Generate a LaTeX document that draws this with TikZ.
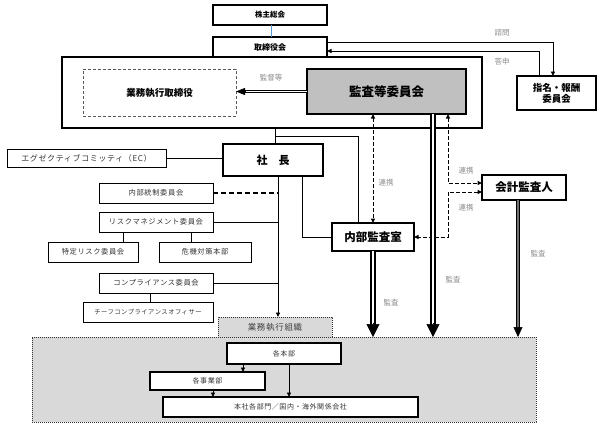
\documentclass[tikz,border=0pt]{standalone}
\usepackage{fontspec}
\setmainfont{Noto Sans CJK JP}
\newfontfamily\ltfont[LetterSpace=8]{Noto Sans CJK JP}
\usetikzlibrary{arrows.meta,calc}
\definecolor{lblgray}{HTML}{8A8A8A}
\definecolor{kgray}{HTML}{C0C0C0}
\definecolor{bggray}{HTML}{D9D9D9}
\definecolor{linkblue}{HTML}{5B9BD5}
\begin{document}
\begin{tikzpicture}[x=1pt,y=-1pt,
  every node/.style={inner sep=0pt, outer sep=0pt, align=center},
  thinbox/.style={draw, line width=0.9pt, fill=white, text=black!80, font=\ltfont\fontsize{7.3}{8}\selectfont},
  smallbox/.style={thinbox, font=\ltfont\fontsize{6.3}{7}\selectfont},
  boldbox/.style={draw, line width=1.9pt, fill=white, font=\bfseries\fontsize{9.5}{11}\selectfont},
  lbl/.style={text=lblgray, font=\fontsize{7.5}{8}\selectfont},
  ln/.style={line width=0.9pt},
  tip/.style={-{Triangle[width=4pt,length=4.5pt]}},
  dsh/.style={line width=1pt, dash pattern=on 3.5pt off 2.5pt},
  bigshaft/.style={line width=1.6pt, double=white, double distance=2.2pt, shorten >=12pt},
  bigtip/.style={-{Triangle[width=13pt,length=13pt]}, line width=0.5pt},
  orgedge/.style={draw=black!80, line width=0.8pt, dash pattern=on 1.2pt off 0.8pt, fill=bggray},
]
\useasboundingbox (0,0) rectangle (600,426);

% top
\node[boldbox, line width=1.2pt, minimum width=114pt, minimum height=20pt, font=\bfseries\fontsize{7.5}{8}\selectfont] (kabu) at (270,15) {株主総会};
\node[boldbox, minimum width=114pt, minimum height=20pt, font=\bfseries\fontsize{8}{9}\selectfont] (tori) at (270,47) {取締役会};
\node[draw, line width=1.9pt, minimum width=420pt, minimum height=71pt] (big) at (272,92.5) {};
\node[draw=black!65, line width=1pt, dash pattern=on 3pt off 2pt, minimum width=153pt, minimum height=47pt, font=\bfseries\fontsize{9.5}{11}\selectfont] (gyomu) at (159.5,92.5) {業務執行取締役};
\node[draw, line width=1.9pt, fill=kgray, minimum width=159pt, minimum height=45pt, font=\bfseries\fontsize{12.5}{14}\selectfont] (kansa) at (386.5,91.5) {監査等委員会};
\node[boldbox, minimum width=79pt, minimum height=34pt] (shimei) at (556.5,93) {指名・報酬\\委員会};

% middle
\node[boldbox, minimum width=100pt, minimum height=32pt, font=\bfseries\fontsize{11}{13}\selectfont] (shacho) at (273,160) {社　長};
\node[thinbox, minimum width=159pt, minimum height=18pt, font=\ltfont\fontsize{8}{9}\selectfont] (ec) at (86.5,158) {エグゼクティブコミッティ（EC）};
\node[boldbox, minimum width=82pt, minimum height=28pt, font=\bfseries\fontsize{11.5}{13}\selectfont] (naibu) at (373,237) {内部監査室};
\node[boldbox, line width=1.4pt, minimum width=84pt, minimum height=25pt, font=\bfseries\fontsize{11.5}{13}\selectfont] (kaikei) at (524,187.5) {会計監査人};

% left hierarchy
\node[thinbox, minimum width=114pt, minimum height=20pt] (tousei) at (156,193) {内部統制委員会};
\node[thinbox, minimum width=114pt, minimum height=20pt] (risk) at (156,222) {リスクマネジメント委員会};
\node[thinbox, minimum width=90pt, minimum height=20pt] (tokutei) at (93,252) {特定リスク委員会};
\node[thinbox, minimum width=92pt, minimum height=20pt] (kiki) at (205,252) {危機対策本部};
\node[thinbox, minimum width=114pt, minimum height=20pt] (comp) at (156,283) {コンプライアンス委員会};
\node[smallbox, minimum width=130pt, minimum height=20pt] (chief) at (148,312) {チーフコンプライアンスオフィサー};

% bottom organisation
\node[orgedge, minimum width=504pt, minimum height=85pt] (gray) at (284,379.5) {};
\node[orgedge, minimum width=114pt, minimum height=20pt, text=black!75, font=\ltfont\fontsize{8.5}{9}\selectfont] (tab) at (275,327) {業務執行組織};
\node[smallbox, line width=1.1pt, minimum width=114pt, minimum height=21pt, font=\ltfont\fontsize{7}{8}\selectfont] (honbu) at (284,353.5) {各本部};
\node[smallbox, line width=1.1pt, minimum width=115pt, minimum height=18pt, font=\ltfont\fontsize{7}{8}\selectfont] (jigyo) at (207.5,381) {各事業部};
\node[smallbox, line width=1.1pt, minimum width=255pt, minimum height=20pt, font=\ltfont\fontsize{7}{8}\selectfont] (honsha) at (290.5,407) {本社各部門／国内・海外関係会社};

% coordinates
\coordinate (c1) at (553,42);
\coordinate (c2) at (539,51);
\coordinate (b1) at (271,0);
\coordinate (j1) at (275,136);
\coordinate (j2) at (358,136);
\coordinate (j3) at (302,237);
\coordinate (m) at (278,0);
\coordinate (t1) at (123,0);
\coordinate (t2) at (191,0);
\coordinate (t3) at (150,0);
\coordinate (d1) at (448,183);
\coordinate (d2) at (448,192);
\coordinate (d3) at (448,237);
\coordinate (k1) at (433,0);
\coordinate (a1) at (518,0);
\coordinate (h1) at (243,0);
\coordinate (h2) at (289,0);
\coordinate (h3) at (213,0);

% connectors top
\draw[linkblue, line width=1pt] (kabu.south -| b1) -- (tori.north -| b1);
\draw[ln, tip] (tori.east |- c1) -- (c1) -- (c1 |- shimei.north);
\draw[ln, tip] (c2 |- shimei.north) -- (c2) -- (c2 -| tori.east);
\node[lbl] (l1) at (502,33) {諮問};
\node[lbl] (l2) at (502,62) {答申};

% supervision arrow
\draw[line width=0.8pt, double=white, double distance=1.6pt, shorten >=8pt] (kansa.west) -- (kansa.west -| gyomu.east);
\draw[-{Triangle[width=7pt,length=9pt]}, line width=0.5pt] ($(kansa.west -| gyomu.east)+(9,0)$) -- (kansa.west -| gyomu.east);
\node[lbl] (l3) at (271,78) {監督等};

% big box to shacho / naibu
\draw[ln] (big.south -| j1) -- (j1 |- shacho.north);
\draw[ln] (j1) -- (j2) -- (j2 |- naibu.north);
\draw[ln] (ec.east) -- (ec.east -| shacho.west);
\draw[ln] (j3 |- shacho.south) -- (j3) -- (naibu.west);

% main vertical
\draw[ln, tip] (shacho.south -| m) -- (m |- tab.north);
\draw[line width=1.3pt, dash pattern=on 5pt off 3pt] (tousei.east) -- (tousei.east -| m);
\draw[ln] (risk.east) -- (risk.east -| m);
\draw[ln] (comp.east) -- (comp.east -| m);
\draw[ln] (risk.south -| t1) -- (t1 |- tokutei.north);
\draw[ln] (risk.south -| t2) -- (t2 |- kiki.north);
\draw[ln] (comp.south -| t3) -- (t3 |- chief.north);

% cooperation (dashed)
\draw[dsh, {Triangle[width=4pt,length=4.5pt]}-{Triangle[width=4pt,length=4.5pt]}] (kansa.south -| naibu.north) -- (naibu.north);
\draw[dsh, {Triangle[width=4pt,length=4.5pt]}-{Triangle[width=4pt,length=4.5pt]}] (kansa.south -| d1) -- (d1) -- (d1 -| kaikei.west);
\draw[dsh, {Triangle[width=4pt,length=4.5pt]}-{Triangle[width=4pt,length=4.5pt]}] (d2 -| kaikei.west) -- (d2) -- (d3) -- (naibu.east);
\node[lbl] (l4) at (386,183) {連携};
\node[lbl] (l5) at (466,171) {連携};
\node[lbl] (l6) at (466,208) {連携};

% audit arrows
\draw[bigshaft] (naibu.south) -- (naibu.south |- gray.north);
\draw[bigtip] ($(naibu.south |- gray.north)+(0,-14)$) -- (naibu.south |- gray.north);
\draw[bigshaft] (kansa.south -| k1) -- (k1 |- gray.north);
\draw[bigtip] ($(k1 |- gray.north)+(0,-14)$) -- (k1 |- gray.north);
\draw[line width=1pt, double=black!55, double distance=1.4pt, shorten >=9pt] (kaikei.south -| a1) -- (a1 |- gray.north);
\draw[-{Triangle[width=9pt,length=10pt]}, line width=0.5pt] ($(a1 |- gray.north)+(0,-10)$) -- (a1 |- gray.north);
\node[lbl] (l7) at (391,303) {監査};
\node[lbl] (l8) at (453,280) {監査};
\node[lbl] (l9) at (538,254) {監査};

% inside organisation
\draw[ln, tip] (honbu.south -| h1) -- (h1 |- jigyo.north);
\draw[ln, tip] (honbu.south -| h2) -- (h2 |- honsha.north);
\draw[ln, tip] (jigyo.south -| h3) -- (h3 |- honsha.north);
\end{tikzpicture}
\end{document}
